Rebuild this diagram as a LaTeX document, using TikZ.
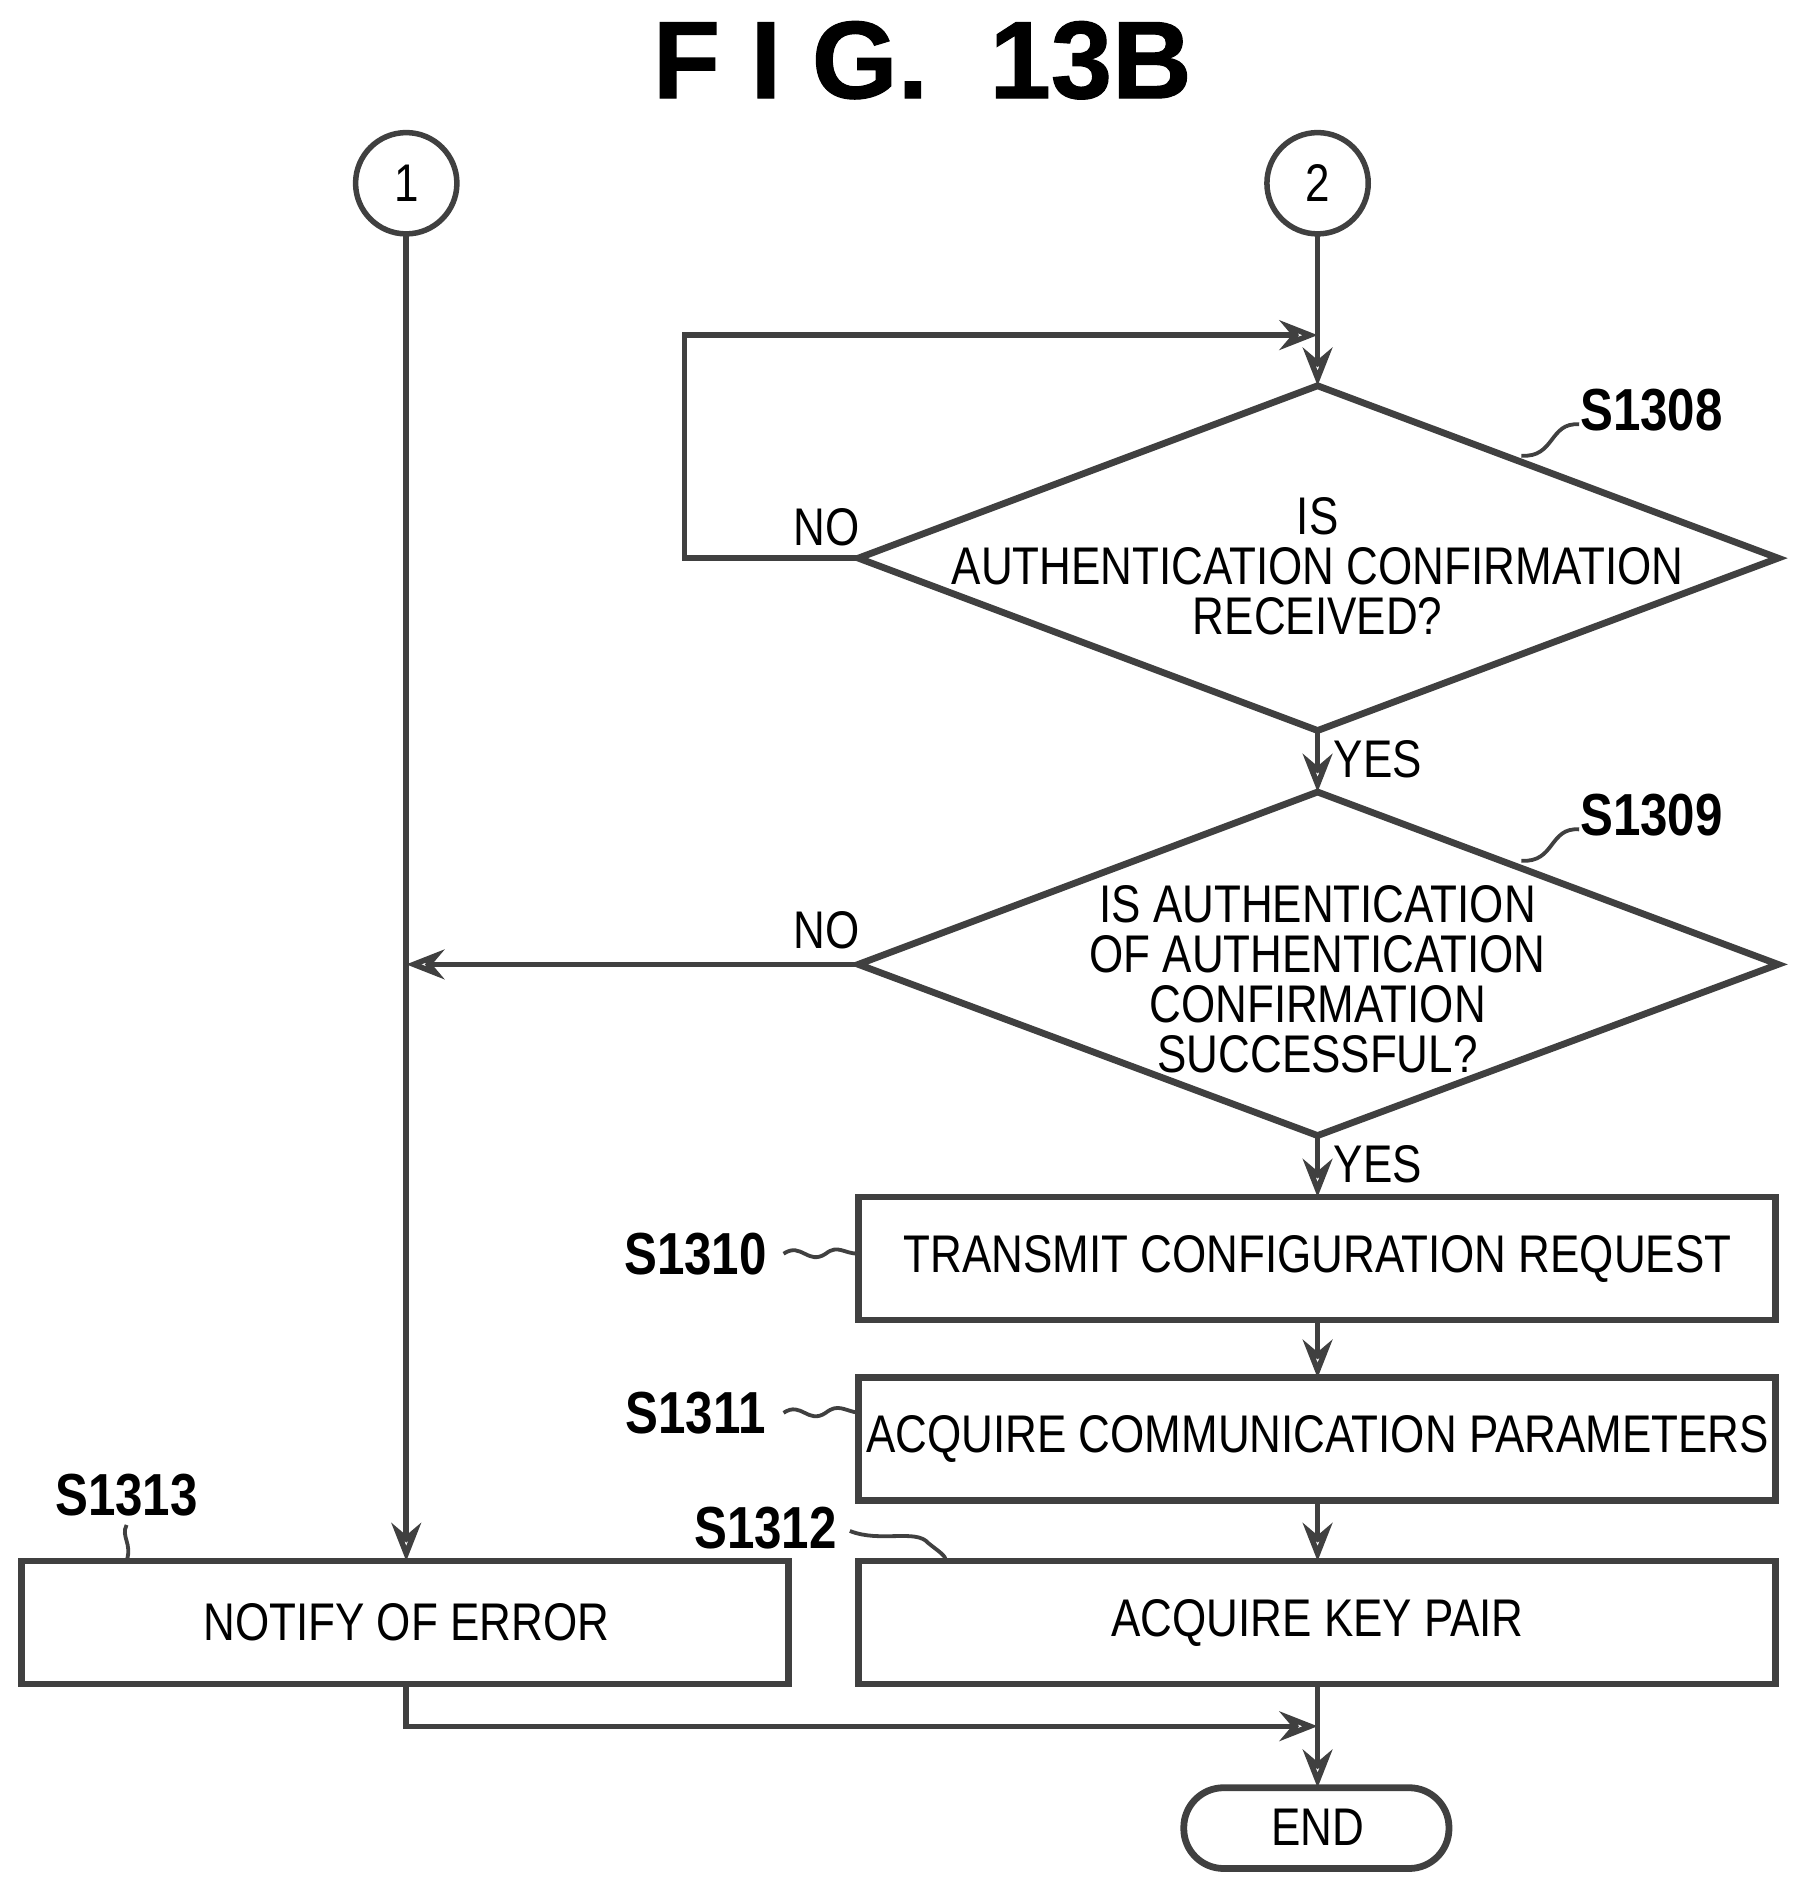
\documentclass[tikz,border=0pt]{standalone}
\usepackage{fontspec}
\setmainfont{Liberation Sans}[FakeStretch=0.83]
\newfontfamily\titlefont{Liberation Sans}[FakeBold=1]
\usetikzlibrary{shapes.geometric,arrows.meta}
\begin{document}
\begin{tikzpicture}[x=0.01cm,y=-0.01cm,
  ln/.style={line width=1.3pt,black!75},
  bx/.style={ln,line width=1.6pt},
  ar/.style={ln,-{Stealth[open,length=9pt,width=7pt]}},
  lbl/.style={font=\bfseries\fontsize{14}{16}\selectfont},
  txt/.style={font=\fontsize{12.5}{11.8}\selectfont,align=center},
  sq/.style={ln,line width=0.9pt}]
\useasboundingbox (0,0) rectangle (1500,1572);
\node[font=\titlefont\bfseries\fontsize{26}{28}\selectfont] (title) at (765,50) {F I G.\ \ 13B};
\node[draw,circle,ln,minimum size=0.84cm,inner sep=0pt] (c1) at (337,152) {};
\node[txt] at (c1) {1};
\node[draw,circle,ln,minimum size=0.84cm,inner sep=0pt] (c2) at (1093,152) {};
\node[txt] at (c2) {2};
% diamonds
\coordinate (d1t) at (1093,320); \coordinate (d1b) at (1093,606);
\coordinate (d1l) at (712,463); \coordinate (d1r) at (1475,463);
\draw[bx] (d1t) -- (d1r) -- (d1b) -- (d1l) -- cycle;
\node[txt] (d1) at (1093,470) {IS\\AUTHENTICATION CONFIRMATION\\RECEIVED?};
\coordinate (d2t) at (1093,657); \coordinate (d2b) at (1093,942);
\coordinate (d2l) at (712,800); \coordinate (d2r) at (1475,800);
\draw[bx] (d2t) -- (d2r) -- (d2b) -- (d2l) -- cycle;
\node[txt] (d2) at (1093,812) {IS AUTHENTICATION\\OF AUTHENTICATION\\CONFIRMATION\\SUCCESSFUL?};
% boxes
\draw[bx] (712,993) rectangle (1473,1095);
\node[txt] (b10) at (1093,1044) {TRANSMIT CONFIGURATION REQUEST};
\draw[bx] (712,1143) rectangle (1473,1245);
\node[txt] (b11) at (1093,1194) {ACQUIRE COMMUNICATION PARAMETERS};
\draw[bx] (712,1295) rectangle (1473,1397);
\node[txt] (b12) at (1093,1346) {ACQUIRE KEY PAIR};
\draw[bx] (18,1295) rectangle (654,1397);
\node[txt] (b13) at (337,1346) {NOTIFY OF ERROR};
\draw[bx,rounded corners=0.33cm] (982,1483) rectangle (1202,1550);
\node[txt] (end) at (1093,1516) {END};
% connectors
\coordinate (c1b) at (337,194); \coordinate (c2b) at (1093,194);
\draw[ar] (c1b) -- (337,1295);
\draw[ar] (c2b) -- (d1t);
\draw[ar] (d1l) -- (568,463) -- (568,278) -- (1093,278);
\draw[ar] (d1b) -- (d2t);
\draw[ar] (d2l) -- (337,800);
\draw[ar] (d2b) -- (1093,993);
\draw[ar] (1093,1095) -- (1093,1143);
\draw[ar] (1093,1245) -- (1093,1295);
\draw[ar] (337,1397) -- (337,1432) -- (1093,1432);
\draw[ar] (1093,1397) -- (1093,1483);
% labels
\node[txt] at (686,437) {NO};
\node[txt] at (686,772) {NO};
\node[txt] at (1143,630) {YES};
\node[txt] at (1143,966) {YES};
\node[lbl] (l8) at (1370,340) {S1308};
\node[lbl] (l9) at (1370,676) {S1309};
\node[lbl] (l10) at (577,1040) {S1310};
\node[lbl] (l11) at (577,1172) {S1311};
\node[lbl] (l12) at (635,1268) {S1312};
\node[lbl] (l13) at (105,1240) {S1313};
\draw[sq] (1310,352) .. controls (1285,350) and (1290,380) .. (1262,378);
\draw[sq] (1310,688) .. controls (1285,686) and (1290,716) .. (1262,714);
\draw[sq] (650,1040) .. controls (665,1030) and (670,1050) .. (685,1040) .. controls (695,1032) and (700,1040) .. (712,1040);
\draw[sq] (650,1172) .. controls (665,1162) and (670,1182) .. (685,1172) .. controls (695,1164) and (700,1170) .. (712,1172);
\draw[sq] (705,1270) .. controls (730,1280) and (760,1268) .. (770,1280) .. controls (780,1288) and (784,1290) .. (785,1295);
\draw[sq] (105,1265) .. controls (100,1275) and (110,1280) .. (105,1295);
\end{tikzpicture}
\end{document}
